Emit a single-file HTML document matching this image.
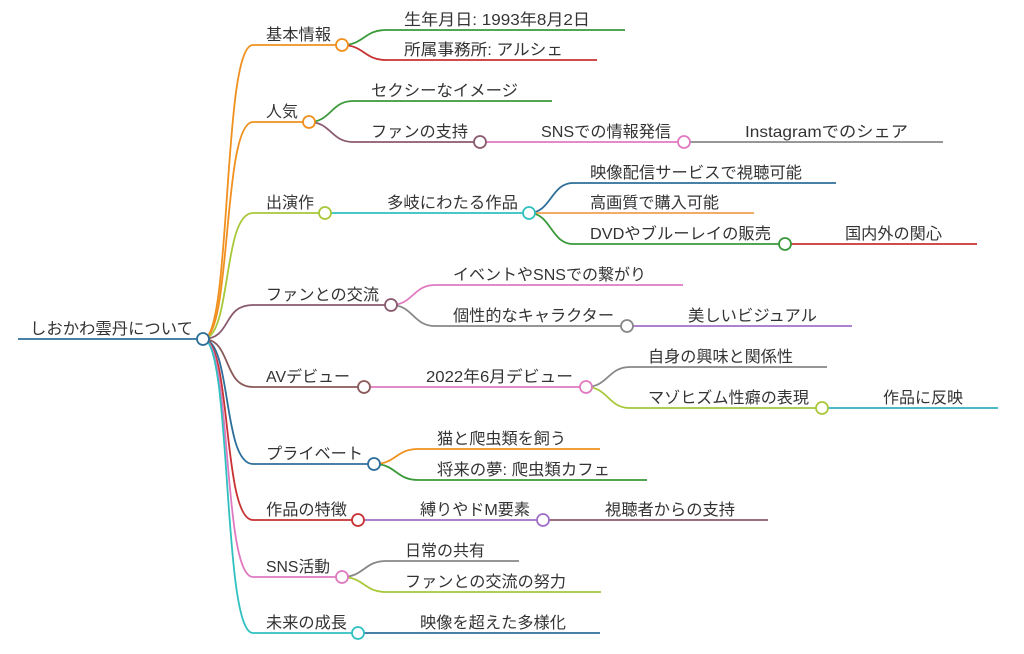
<!DOCTYPE html>
<html><head><meta charset="utf-8"><style>
html,body{margin:0;padding:0;background:#fff;}
svg{display:block}
text{font-family:"Liberation Sans","Noto Sans CJK JP",sans-serif;font-size:16px;fill:#333;}
path{fill:none;stroke-width:1.8}
circle{fill:#fff;stroke-width:1.8}
</style></head><body>
<svg width="1024" height="654" viewBox="0 0 1024 654" xmlns="http://www.w3.org/2000/svg">
<path d="M18 339 H203" stroke="#2e6e9a"/>
<text x="30" y="334" textLength="163" lengthAdjust="spacingAndGlyphs">しおかわ雲丹について</text>

<path d="M203 339 C232 339 222 45 253 45 H342" stroke="#f0901e"/>
<path d="M203 339 C232 339 222 122 253 122 H309" stroke="#f0901e"/>
<path d="M203 339 C232 339 222 213 253 213 H325" stroke="#a8c83a"/>
<path d="M203 339 C232 339 222 305 253 305 H391" stroke="#8a5a6e"/>
<path d="M203 339 C232 339 222 387 253 387 H364" stroke="#8a5a5a"/>
<path d="M203 339 C232 339 222 464 253 464 H374" stroke="#2e6e9a"/>
<path d="M203 339 C232 339 222 520 253 520 H358" stroke="#c83232"/>
<path d="M203 339 C232 339 222 577 253 577 H342" stroke="#e07ac0"/>
<path d="M203 339 C232 339 222 633 253 633 H358" stroke="#30c0c0"/>

<path d="M342 45 C364 45 364 30 386 30 H625" stroke="#3a9a3a"/>
<path d="M342 45 C364 45 364 60 386 60 H597" stroke="#c83232"/>
<path d="M309 122 C331 122 331 101 353 101 H552" stroke="#3a9a3a"/>
<path d="M309 122 C331 122 331 142 353 142 H480" stroke="#8a5a6e"/>
<path d="M480 142 H684" stroke="#e07ac0"/>
<path d="M684 142 H943" stroke="#888"/>
<path d="M325 213 H529" stroke="#30c0c0"/>
<path d="M529 213 C551 213 551 183 573 183 H836" stroke="#2e6e9a"/>
<path d="M529 213 H754" stroke="#f0a050"/>
<path d="M529 213 C551 213 551 244 573 244 H785" stroke="#3a9a3a"/>
<path d="M785 244 H977" stroke="#c83232"/>
<path d="M391 305 C413 305 413 285 435 285 H683" stroke="#e07ac0"/>
<path d="M391 305 C413 305 413 326 435 326 H627" stroke="#888"/>
<path d="M627 326 H852" stroke="#a070c8"/>
<path d="M364 387 H586" stroke="#e07ac0"/>
<path d="M586 387 C608 387 608 367 630 367 H827" stroke="#888"/>
<path d="M586 387 C608 387 608 408 630 408 H822" stroke="#a8c83a"/>
<path d="M822 408 H998" stroke="#30b0c0"/>
<path d="M374 464 C396 464 396 449 418 449 H600" stroke="#f0901e"/>
<path d="M374 464 C396 464 396 480 418 480 H647" stroke="#3a9a3a"/>
<path d="M358 520 H543" stroke="#a070c8"/>
<path d="M543 520 H768" stroke="#8a5a6e"/>
<path d="M342 577 C364 577 364 561 386 561 H519" stroke="#888"/>
<path d="M342 577 C364 577 364 592 386 592 H601" stroke="#a8c83a"/>
<path d="M358 633 H600" stroke="#2e6e9a"/>

<circle cx="203" cy="339" r="6" stroke="#2e6e9a"/>
<circle cx="342" cy="45" r="6" stroke="#f0901e"/>
<circle cx="309" cy="122" r="6" stroke="#f0901e"/>
<circle cx="325" cy="213" r="6" stroke="#a8c83a"/>
<circle cx="391" cy="305" r="6" stroke="#8a5a6e"/>
<circle cx="364" cy="387" r="6" stroke="#8a5a5a"/>
<circle cx="374" cy="464" r="6" stroke="#2e6e9a"/>
<circle cx="358" cy="520" r="6" stroke="#c83232"/>
<circle cx="342" cy="577" r="6" stroke="#e07ac0"/>
<circle cx="358" cy="633" r="6" stroke="#30c0c0"/>
<circle cx="480" cy="142" r="6" stroke="#8a5a6e"/>
<circle cx="684" cy="142" r="6" stroke="#e07ac0"/>
<circle cx="529" cy="213" r="6" stroke="#30c0c0"/>
<circle cx="785" cy="244" r="6" stroke="#3a9a3a"/>
<circle cx="627" cy="326" r="6" stroke="#888"/>
<circle cx="586" cy="387" r="6" stroke="#e07ac0"/>
<circle cx="822" cy="408" r="6" stroke="#a8c83a"/>
<circle cx="543" cy="520" r="6" stroke="#a070c8"/>

<text x="266" y="40" textLength="65" lengthAdjust="spacingAndGlyphs">基本情報</text>
<text x="404" y="25" textLength="186" lengthAdjust="spacingAndGlyphs">生年月日: 1993年8月2日</text>
<text x="404" y="55" textLength="159" lengthAdjust="spacingAndGlyphs">所属事務所: アルシェ</text>
<text x="266" y="117" textLength="32" lengthAdjust="spacingAndGlyphs">人気</text>
<text x="371" y="96" textLength="147" lengthAdjust="spacingAndGlyphs">セクシーなイメージ</text>
<text x="371" y="137" textLength="97" lengthAdjust="spacingAndGlyphs">ファンの支持</text>
<text x="541" y="137" textLength="130" lengthAdjust="spacingAndGlyphs">SNSでの情報発信</text>
<text x="745" y="137" textLength="163" lengthAdjust="spacingAndGlyphs">Instagramでのシェア</text>
<text x="266" y="208" textLength="48" lengthAdjust="spacingAndGlyphs">出演作</text>
<text x="387" y="208" textLength="131" lengthAdjust="spacingAndGlyphs">多岐にわたる作品</text>
<text x="590" y="178" textLength="212" lengthAdjust="spacingAndGlyphs">映像配信サービスで視聴可能</text>
<text x="590" y="208" textLength="129" lengthAdjust="spacingAndGlyphs">高画質で購入可能</text>
<text x="590" y="239" textLength="181" lengthAdjust="spacingAndGlyphs">DVDやブルーレイの販売</text>
<text x="845" y="239" textLength="97" lengthAdjust="spacingAndGlyphs">国内外の関心</text>
<text x="266" y="300" textLength="113" lengthAdjust="spacingAndGlyphs">ファンとの交流</text>
<text x="453" y="280" textLength="193" lengthAdjust="spacingAndGlyphs">イベントやSNSでの繋がり</text>
<text x="453" y="321" textLength="161" lengthAdjust="spacingAndGlyphs">個性的なキャラクター</text>
<text x="688" y="321" textLength="129" lengthAdjust="spacingAndGlyphs">美しいビジュアル</text>
<text x="266" y="382" textLength="84" lengthAdjust="spacingAndGlyphs">AVデビュー</text>
<text x="426" y="382" textLength="147" lengthAdjust="spacingAndGlyphs">2022年6月デビュー</text>
<text x="648" y="362" textLength="145" lengthAdjust="spacingAndGlyphs">自身の興味と関係性</text>
<text x="648" y="403" textLength="161" lengthAdjust="spacingAndGlyphs">マゾヒズム性癖の表現</text>
<text x="883" y="403" textLength="80" lengthAdjust="spacingAndGlyphs">作品に反映</text>
<text x="266" y="459" textLength="97" lengthAdjust="spacingAndGlyphs">プライベート</text>
<text x="437" y="444" textLength="129" lengthAdjust="spacingAndGlyphs">猫と爬虫類を飼う</text>
<text x="437" y="475" textLength="173" lengthAdjust="spacingAndGlyphs">将来の夢: 爬虫類カフェ</text>
<text x="266" y="515" textLength="81" lengthAdjust="spacingAndGlyphs">作品の特徴</text>
<text x="420" y="515" textLength="110" lengthAdjust="spacingAndGlyphs">縛りやドM要素</text>
<text x="605" y="515" textLength="130" lengthAdjust="spacingAndGlyphs">視聴者からの支持</text>
<text x="266" y="572" textLength="64" lengthAdjust="spacingAndGlyphs">SNS活動</text>
<text x="405" y="556" textLength="80" lengthAdjust="spacingAndGlyphs">日常の共有</text>
<text x="405" y="587" textLength="161" lengthAdjust="spacingAndGlyphs">ファンとの交流の努力</text>
<text x="266" y="628" textLength="81" lengthAdjust="spacingAndGlyphs">未来の成長</text>
<text x="420" y="628" textLength="146" lengthAdjust="spacingAndGlyphs">映像を超えた多様化</text>
</svg>
</body></html>
